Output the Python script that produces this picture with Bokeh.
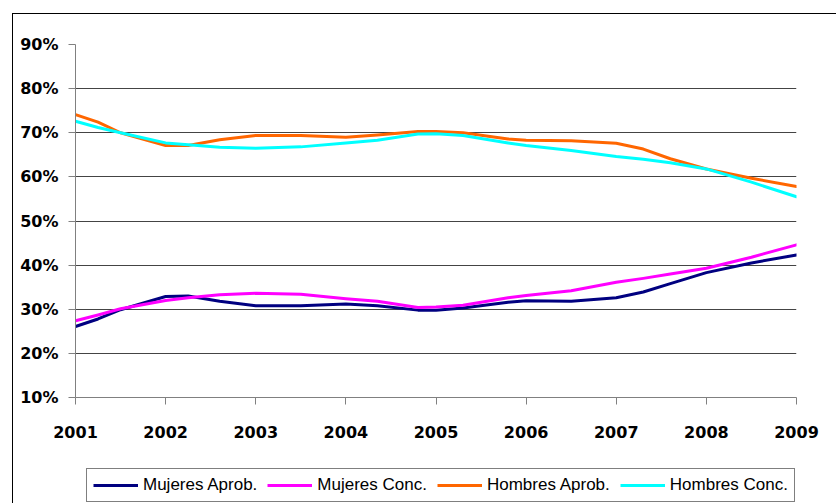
from bokeh.plotting import figure
from bokeh.layouts import column
from bokeh.models import Range1d, FixedTicker, NumeralTickFormatter, Legend, LegendItem
from bokeh.embed import file_html
from bokeh.resources import INLINE

# fractional-year positions
years = [2001, 2001.25, 2001.5, 2002, 2002.25, 2002.6, 2003, 2003.5, 2004, 2004.35, 2004.8,
         2005, 2005.3, 2005.8, 2006, 2006.5, 2007, 2007.3, 2007.6, 2008, 2008.5, 2009]
tick_years = [2001, 2002, 2003, 2004, 2005, 2006, 2007, 2008, 2009]
y_ticks = [0.1, 0.2, 0.3, 0.4, 0.5, 0.6, 0.7, 0.8, 0.9]

mujeres_aprob = [26.1, 27.8, 29.9, 32.9, 33.0, 31.8, 30.8, 30.8, 31.2, 30.8, 29.8,
                 29.8, 30.3, 31.6, 31.9, 31.8, 32.6, 33.9, 35.8, 38.3, 40.5, 42.3]
mujeres_conc = [27.4, 28.7, 30.1, 32.0, 32.6, 33.3, 33.6, 33.4, 32.4, 31.8, 30.4,
                30.5, 30.9, 32.6, 33.1, 34.2, 36.1, 37.0, 38.0, 39.3, 41.8, 44.6]
hombres_aprob = [74.1, 72.4, 70.0, 67.1, 67.1, 68.4, 69.4, 69.4, 69.0, 69.5, 70.3,
                 70.3, 70.0, 68.6, 68.3, 68.2, 67.6, 66.3, 64.1, 61.8, 59.7, 57.8]
hombres_conc = [72.6, 71.2, 70.0, 67.7, 67.3, 66.7, 66.5, 66.8, 67.7, 68.3, 69.7,
                69.8, 69.4, 67.7, 67.1, 66.0, 64.6, 64.0, 63.2, 61.8, 58.8, 55.5]

series = [
    ("Mujeres Aprob.", mujeres_aprob, "#000080"),
    ("Mujeres Conc.", mujeres_conc, "#FF00FF"),
    ("Hombres Aprob.", hombres_aprob, "#FF6600"),
    ("Hombres Conc.", hombres_conc, "#00FFFF"),
]

p = figure(width=823, height=445, output_backend="svg", toolbar_location=None,
           x_range=Range1d(2001, 2009), y_range=Range1d(0.1, 0.9),
           min_border_left=62, min_border_right=40, min_border_top=30, min_border_bottom=62)
p.outline_line_color = None
p.background_fill_color = "white"
p.border_fill_color = "white"

p.xgrid.visible = False
p.ygrid.ticker = FixedTicker(ticks=y_ticks)
p.ygrid.grid_line_color = "#444444"
p.ygrid.grid_line_width = 1

p.xaxis.ticker = FixedTicker(ticks=tick_years)
p.xaxis.major_label_overrides = {y: str(y) for y in tick_years}
p.yaxis.ticker = FixedTicker(ticks=y_ticks)
p.yaxis.formatter = NumeralTickFormatter(format="0%")
for ax in (p.xaxis[0], p.yaxis[0]):
    ax.axis_line_color = "#808080"
    ax.axis_line_width = 1
    ax.major_tick_line_color = "#808080"
    ax.major_tick_in = 0
    ax.major_tick_out = 7
    ax.minor_tick_line_color = None
    ax.major_label_text_font = "DejaVu Sans"
    ax.major_label_text_font_style = "bold"
    ax.major_label_text_font_size = "16px"
    ax.major_label_text_color = "#000000"
p.yaxis.major_label_standoff = 10
p.xaxis.major_label_standoff = 21

for name, vals, color in series:
    p.line(years, [v / 100 for v in vals], line_color=color, line_width=3,
           line_join="round", line_cap="round")

# legend strip below the chart (its own lines lie outside its visible range)
lg = figure(width=823, height=44, output_backend="svg", toolbar_location=None,
            x_range=Range1d(2001, 2009), y_range=Range1d(-2, -1),
            x_axis_location=None, y_axis_location=None,
            min_border_left=0, min_border_right=0, min_border_top=0, min_border_bottom=0)
lg.outline_line_color = None
lg.grid.visible = False
lg.background_fill_color = "white"
lg.border_fill_color = "white"
items = []
for name, vals, color in series:
    r = lg.line(years, [v / 100 for v in vals], line_color=color, line_width=3)
    items.append(LegendItem(label=name, renderers=[r]))
legend = Legend(items=items, orientation="horizontal", location=(11, 1),
                border_line_color="#000000", border_line_width=1,
                background_fill_color="white", background_fill_alpha=1,
                label_text_font="Liberation Sans", label_text_font_size="17px",
                label_text_color="#000000",
                glyph_width=45, glyph_height=20, label_standoff=5, spacing=10,
                padding=6, margin=0, label_height=20)
lg.add_layout(legend)

layout = column(p, lg, spacing=0, margin=(13, 0, 0, 12))
layout.styles = {"border-top": "1px solid #000", "border-left": "1px solid #000"}

open("out.html", "w").write(file_html(layout, INLINE))
